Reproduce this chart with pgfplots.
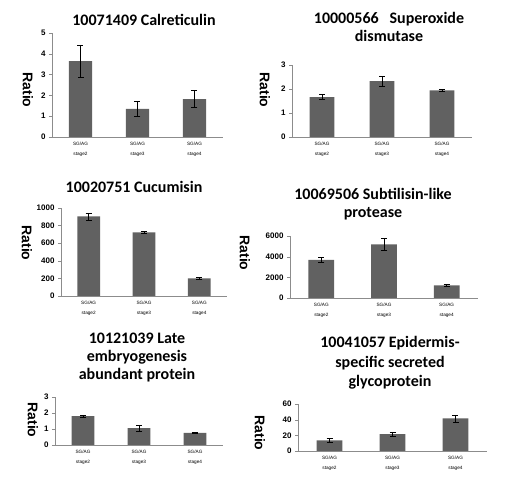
\documentclass[border=0pt]{standalone}
\usepackage{pgfplots}
\pgfplotsset{compat=1.18}
\usepackage{fontspec}
\setmainfont{Liberation Sans}
\newfontfamily\carlito{Carlito}
\definecolor{barc}{HTML}{616161}
\definecolor{axc}{HTML}{8C8C8C}
\pgfplotsset{
  panel/.style={
    scale only axis,
    anchor=south west,
    axis x line*=bottom, axis y line*=left,
    axis line style={axc},
    xmin=-0.5, xmax=2.5, ymin=0,
    xtick={0,1,2},
    xticklabels={{SG/AG\\stage2},{SG/AG\\stage3},{SG/AG\\stage4}},
    xtick style={draw=none},
    minor xtick={-0.5,0.5,1.5,2.5},
    minor tick length=3pt,
    minor x tick style={axc},
    ytick style={axc},
    major tick length=3pt,
    tick align=outside,
    xticklabel style={font=\fontsize{4.7}{10}\selectfont, align=center, inner sep=1pt, yshift=-1pt},
    yticklabel style={font=\bfseries\fontsize{8}{9}\selectfont},
    /pgf/number format/assume math mode=true,
    /pgf/number format/set thousands separator={},
    scaled y ticks=false,
    ybar, bar width=0.41,
  },
  bars/.style={fill=barc, draw=none,
    error bars/.cd, y dir=both, y explicit,
    error bar style={draw=black, line width=0.6pt},
    error mark options={draw=black, mark size=3pt, line width=0.6pt, rotate=90}},
}
\newcommand\tfont{\carlito\bfseries\fontsize{16}{18}\selectfont}
\newcommand\rfont{\bfseries\fontsize{14}{16}\selectfont}
\begin{document}
\begin{tikzpicture}[x=1pt,y=1pt]
\path (0,0) rectangle (507,485);
% Panel 1
\begin{axis}[panel, at={(52pt,348pt)}, width=171pt, height=104pt, ymax=5, ytick={0,1,2,3,4,5}]
\addplot[bars] coordinates {(0,3.65) +- (0,0.78) (1,1.35) +- (0,0.35) (2,1.82) +- (0,0.41)};
\end{axis}
\node[font=\tfont] at (144,465) {10071409 Calreticulin};
\node[font=\rfont, rotate=-90] at (28,395) {Ratio};
% Panel 2
\begin{axis}[panel, at={(292pt,348pt)}, width=180pt, height=72pt, ymax=3, ytick={0,1,2,3}]
\addplot[bars] coordinates {(0,1.66) +- (0,0.1) (1,2.33) +- (0,0.2) (2,1.94) +- (0,0.05)};
\end{axis}
\node[font=\tfont, align=center] at (389,458) {10000566\ \ \ Superoxide\\dismutase};
\node[font=\rfont, rotate=-90] at (265,395) {Ratio};
% Panel 3
\begin{axis}[panel, at={(61pt,189pt)}, width=166pt, height=88pt, ymax=1000, ytick={0,200,400,600,800,1000}]
\addplot[bars] coordinates {(0,905) +- (0,40) (1,722) +- (0,15) (2,200) +- (0,10)};
\end{axis}
\node[font=\tfont] at (134,298) {10020751 Cucumisin};
\node[font=\rfont, rotate=-90] at (27,242) {Ratio};
% Panel 4
\begin{axis}[panel, at={(290pt,187pt)}, width=188pt, height=62pt, ymax=6000, ytick={0,2000,4000,6000}]
\addplot[bars] coordinates {(0,3680) +- (0,250) (1,5190) +- (0,550) (2,1220) +- (0,100)};
\end{axis}
\node[font=\tfont, align=center] at (373,281) {10069506 Subtilisin-like\\protease};
\node[font=\rfont, rotate=-90] at (245,232) {Ratio};
% Panel 5
\begin{axis}[panel, at={(55pt,40pt)}, width=168pt, height=48pt, ymax=3, ytick={0,1,2,3}]
\addplot[bars] coordinates {(0,1.8) +- (0,0.08) (1,1.05) +- (0,0.2) (2,0.75) +- (0,0.05)};
\end{axis}
\node[font=\tfont, align=center] at (137,127) {10121039 Late\\embryogenesis\\abundant protein};
\node[font=\rfont, rotate=-90] at (33,65) {Ratio};
% Panel 6
\begin{axis}[panel, at={(298pt,34pt)}, width=189pt, height=47pt, ymax=60, ytick={0,20,40,60}]
\addplot[bars] coordinates {(0,13.5) +- (0,2.5) (1,21.5) +- (0,2.5) (2,41.5) +- (0,4.5)};
\end{axis}
\node[font=\carlito\bfseries\fontsize{16}{19.5}\selectfont, align=center] at (390,122) {10041057 Epidermis-\\specific secreted\\glycoprotein};
\node[font=\rfont, rotate=-90] at (260,52) {Ratio};
\end{tikzpicture}
\end{document}
